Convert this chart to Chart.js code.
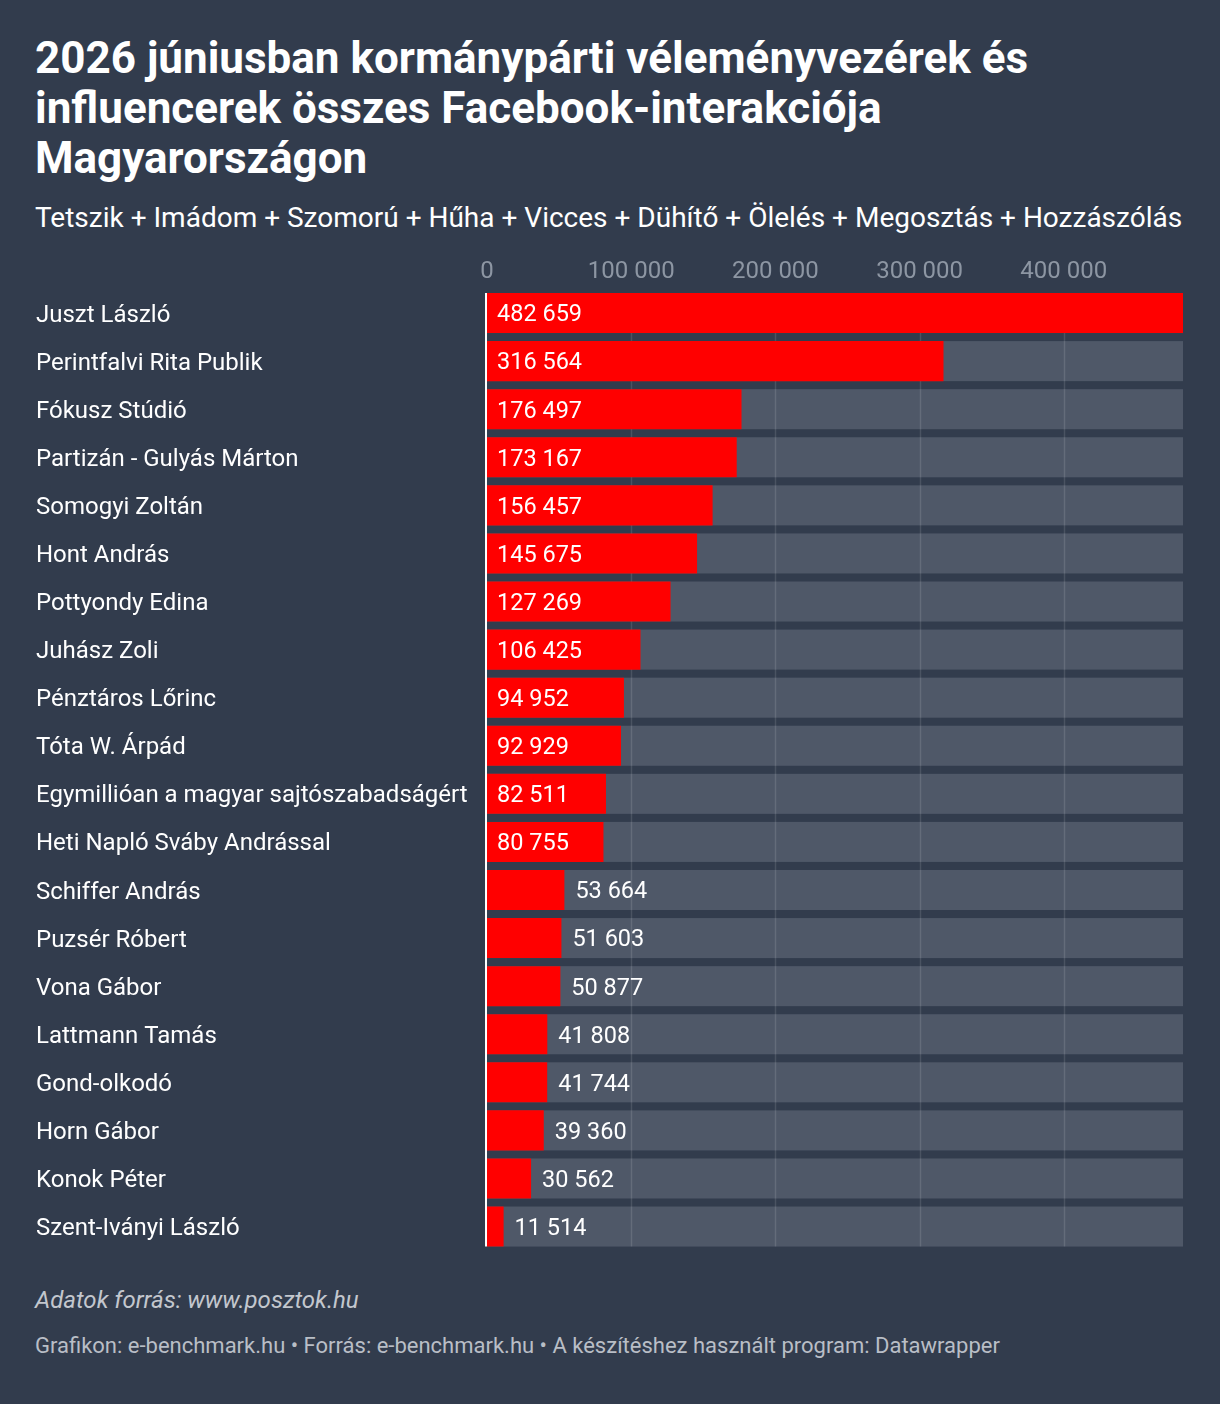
<!DOCTYPE html>
<html><head><meta charset="utf-8">
<script src="https://cdn.jsdelivr.net/npm/chart.js@4"></script>
<style>
html,body{margin:0;padding:0;background:#323c4d;width:1220px;height:1404px;overflow:hidden;font-family:Roboto,sans-serif;}
#title{position:absolute;left:35px;top:33px;width:1100px;color:#fff;font-weight:700;font-size:44px;line-height:50px;margin:0;}
#sub{position:absolute;left:35px;top:202px;color:#fff;font-size:28px;line-height:32px;white-space:nowrap;}
#wrap{position:absolute;left:0;top:250px;width:1220px;height:1015px;}
#src{position:absolute;left:35px;top:1286px;color:#c3c7ce;font-style:italic;font-size:24px;line-height:28px;}
#foot{position:absolute;left:35px;top:1333px;color:#b9bec6;font-size:22px;line-height:26px;white-space:nowrap;}
</style></head>
<body>
<h1 id="title">2026 júniusban kormánypárti véleményvezérek és influencerek összes Facebook-interakciója Magyarországon</h1>
<div id="sub">Tetszik + Imádom + Szomorú + Hűha + Vicces + Dühítő + Ölelés + Megosztás + Hozzászólás</div>
<div id="wrap"><canvas id="c"></canvas></div>
<div id="src">Adatok forrás: www.posztok.hu</div>
<div id="foot">Grafikon: e-benchmark.hu • Forrás: e-benchmark.hu • A készítéshez használt program: Datawrapper</div>
<script>
const names = ["Juszt László","Perintfalvi Rita Publik","Fókusz Stúdió","Partizán - Gulyás Márton","Somogyi Zoltán","Hont András","Pottyondy Edina","Juhász Zoli","Pénztáros Lőrinc","Tóta W. Árpád","Egymillióan a magyar sajtószabadságért","Heti Napló Sváby Andrással","Schiffer András","Puzsér Róbert","Vona Gábor","Lattmann Tamás","Gond-olkodó","Horn Gábor","Konok Péter","Szent-Iványi László"];
const interactions = [482659,316564,176497,173167,156457,145675,127269,106425,94952,92929,82511,80755,53664,51603,50877,41808,41744,39360,30562,11514];
const tickValues = [0,100000,200000,300000,400000];
const axisMax = 482659;

const fmt = v => String(v).replace(/\B(?=(\d{3})+(?!\d))/g, ' ');

const bgPlugin = {
  id:'bgbars',
  beforeDatasetsDraw(chart){
    const {ctx, chartArea, scales} = chart;
    const meta = chart.getDatasetMeta(0);
    ctx.save();
    ctx.fillStyle = '#4f5868';
    meta.data.forEach(b=>{
      ctx.fillRect(chartArea.left, b.y - b.height/2, chartArea.right-chartArea.left, b.height);
    });
    const first = meta.data[0], last = meta.data[meta.data.length-1];
    const top = first.y - first.height/2, bottom = last.y + last.height/2;
    ctx.strokeStyle = 'rgba(255,255,255,0.12)';
    ctx.lineWidth = 1.5;
    tickValues.forEach(v=>{
      if(v===0) return;
      const x = Math.round(scales.x.getPixelForValue(v))+0.5;
      ctx.beginPath(); ctx.moveTo(x, top); ctx.lineTo(x, bottom); ctx.stroke();
    });
    ctx.restore();
  },
  afterDatasetsDraw(chart){
    const {ctx, chartArea} = chart;
    const meta = chart.getDatasetMeta(0);
    ctx.save();
    const first = meta.data[0], last = meta.data[meta.data.length-1];
    ctx.strokeStyle = '#ffffff';
    ctx.lineWidth = 2;
    ctx.beginPath();
    ctx.moveTo(chartArea.left - 1, first.y - first.height/2);
    ctx.lineTo(chartArea.left - 1, last.y + last.height/2);
    ctx.stroke();
    ctx.font = '23.5px Roboto';
    ctx.fillStyle = '#ffffff';
    ctx.textBaseline = 'middle';
    ctx.textAlign = 'left';
    meta.data.forEach((b,i)=>{
      const v = interactions[i];
      const x = v > 70000 ? b.base + 10 : b.x + 11;
      ctx.fillText(fmt(v), x, b.y + 2.5);
    });
    ctx.restore();
  }
};

new Chart(document.getElementById('c'), {
  type:'bar',
  data:{labels:names, datasets:[{data:interactions, backgroundColor:'#ff0000', borderWidth:0, categoryPercentage:1, barPercentage:0.833}]},
  options:{
    indexAxis:'y', responsive:true, maintainAspectRatio:false, animation:false,
    layout:{padding:{left:36,right:37,top:0,bottom:9}},
    plugins:{legend:{display:false}, tooltip:{enabled:false}},
    scales:{
      x:{position:'top', min:0, max:axisMax,
        afterBuildTicks(s){ s.ticks = tickValues.map(v=>({value:v})); },
        afterFit(s){ s.height = 39; },
        grid:{display:false, drawTicks:false}, border:{display:false},
        ticks:{color:'#8d96a3', font:{family:'Roboto', size:24}, padding:3, callback:v=>fmt(v), maxRotation:0, autoSkip:false}
      },
      y:{
        afterFit(s){ s.width = 451; },
        grid:{display:false, drawTicks:false},
        border:{display:false},
        ticks:{color:'#ffffff', crossAlign:'far', padding:0, labelOffset:2.5, font:{family:'Roboto', size:24}}
      }
    }
  },
  plugins:[bgPlugin]
});
</script>
</body></html>
